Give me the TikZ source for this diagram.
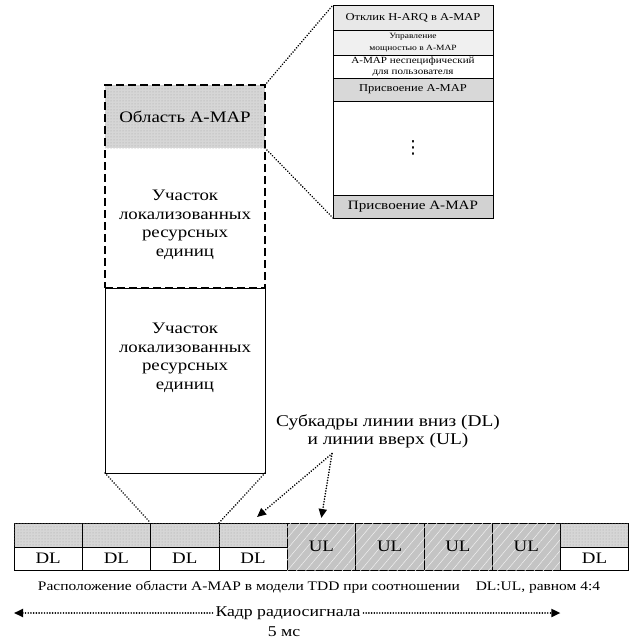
\documentclass[tikz,border=0pt]{standalone}
\usepackage{fontspec}
\setmainfont{Liberation Serif}[FakeStretch=1.18]
\newfontfamily\dotsfont{DejaVu Sans}
\usetikzlibrary{%
	calc,%
	arrows.meta,%
	positioning,%
	fit,%
	patterns,%
	patterns.meta,%
}
\definecolor{cstipple}{RGB}{214, 214, 214}
\definecolor{cstippledot}{RGB}{165, 165, 165}
\definecolor{culfill}{RGB}{196, 196, 196}
\definecolor{crowone}{RGB}{232, 232, 232}
\definecolor{crowtwo}{RGB}{240, 240, 240}
\definecolor{crowfour}{RGB}{216, 216, 216}
\definecolor{crowlast}{RGB}{210, 210, 210}
\tikzset{
	>={Triangle[length=9pt,width=8pt]},%
	nodes={align=center, inner sep=0pt, outer sep=0pt},%
	stipple/.style={%
			fill=cstipple,%
			postaction={pattern=dots, pattern color=cstippledot}},%
	mapcell/.style={%
			draw,%
			rectangle,%
			semithick,%
			stipple,%
			minimum width=68.3pt,%
			minimum height=24pt},%
	dlcell/.style={%
			draw,%
			rectangle,%
			semithick,%
			fill=white,%
			font=\fontsize{16}{18}\selectfont,%
			minimum width=68.3pt,%
			minimum height=23.5pt},%
	ulcell/.style={%
			draw,%
			rectangle,%
			semithick,%
			fill=culfill,%
			postaction={pattern={Lines[angle=50,distance=7pt,line width=0.5pt]}, pattern color=white!75!culfill},%
			font=\fontsize{16}{18}\selectfont,%
			minimum width=68.3pt,%
			minimum height=47.5pt},%
	zonebox/.style={%
			rectangle,%
			minimum width=160pt},%
	bigtext/.style={%
			font=\fontsize{16}{18.5}\selectfont},%
	dashbox/.style={%
			draw,%
			rectangle,%
			line width=2.2pt,%
			dash pattern=on 8pt off 4pt,%
			inner sep=0pt},%
	maprow/.style={%
			draw,%
			rectangle,%
			semithick,%
			minimum width=160pt},%
	dotline/.style={%
			line width=1.8pt,%
			line cap=round,%
			dash pattern=on 0.01pt off 2.7pt},%
}

\begin{document}
\begin{tikzpicture}[x=1pt, y=-1pt, node distance=0pt]%
	\useasboundingbox (0,0) rectangle (629,641);

	% frame of subframes
	\node[mapcell, anchor=north west] (map1) at (14,523) {};
	\node[mapcell] (map2) [right=of map1] {};
	\node[mapcell] (map3) [right=of map2] {};
	\node[mapcell] (map4) [right=of map3] {};
	\node[dlcell] (dl1) [below=of map1] {DL};
	\node[dlcell] (dl2) [below=of map2] {DL};
	\node[dlcell] (dl3) [below=of map3] {DL};
	\node[dlcell] (dl4) [below=of map4] {DL};
	\node[ulcell, right=of map4.north east, anchor=north west] (ul1) {UL};
	\node[ulcell] (ul2) [right=of ul1] {UL};
	\node[ulcell] (ul3) [right=of ul2] {UL};
	\node[ulcell] (ul4) [right=of ul3] {UL};
	\node[mapcell, right=of ul4.north east, anchor=north west] (map5) {};
	\node[dlcell] (dl5) [below=of map5] {DL};

	% zones of the DL subframe
	\node[zonebox, draw, semithick, minimum height=185pt, anchor=south west] (zone) at (105,473) {};
	\node[bigtext] (zonetxt) at ($(zone.north)+(0,70)$) {Участок\\локализованных\\ресурсных\\единиц};

	\node[zonebox, minimum height=140pt, anchor=south west] (dzone) at (zone.north west) {};
	\node[zonebox, stipple, minimum height=63pt] (amap) [above=of dzone] {};
	\node[bigtext] (amaptxt) at (amap.center) {Область A-MAP};
	\node[bigtext] (dzonetxt) at ($(dzone.center)+(0,7)$) {Участок\\локализованных\\ресурсных\\единиц};
	\node[dashbox, fit=(amap)(dzone)] (amapzone) {};

	% content of the A-MAP region
	\node[maprow, fill=crowone, minimum height=25pt, font=\fontsize{10.6}{12}\selectfont, anchor=north west] (harq) at (333,5) {Отклик H-ARQ в A-MAP};
	\node[maprow, fill=crowtwo, minimum height=25pt, font=\fontsize{8}{11.5}\selectfont] (power) [below=of harq] {Управление\\мощностью в A-MAP};
	\node[maprow, fill=white, minimum height=23pt, font=\fontsize{9.4}{11.5}\selectfont] (nonuser) [below=of power] {A-MAP неспецифический\\для пользователя};
	\node[maprow, fill=crowfour, minimum height=23pt, font=\fontsize{10.6}{12}\selectfont] (assign) [below=of nonuser] {Присвоение A-MAP};
	\node[maprow, fill=white, minimum height=94pt, font=\dotsfont\fontsize{18}{20}\selectfont] (blank) [below=of assign] {⋮};
	\node[maprow, fill=crowlast, minimum height=23pt, font=\fontsize{12.8}{14}\selectfont] (assignlast) [below=of blank] {Присвоение A-MAP};

	\draw[dotline] (amap.north east) to (harq.north west);
	\draw[dotline] (amap.south east) to (assignlast.south west);
	\draw[dotline] (zone.south west) to (map3.north west);
	\draw[dotline] (zone.south east) to (map4.north west);

	% subframe label
	\node[font=\fontsize{16.4}{18}\selectfont] (sublabel) at (388,431) {Субкадры линии вниз (DL)\\и линии вверх (UL)};
	\coordinate (subfoot) at ($(sublabel.south)+(-56,6)$);
	\draw[dotline, ->] (subfoot) to ($(map4.north)+(4,-6)$);
	\draw[dotline, ->] (subfoot) to ($(ul1.north)+(0,-5)$);

	% caption and frame length
	\node[font=\fontsize{13.1}{14}\selectfont] (caption) at (319,587) {Расположение области A-MAP в модели TDD при соотношении\hspace{12pt} DL:UL, равном 4:4};
	\node[font=\fontsize{15}{17}\selectfont] (radio) at (288,613) {Кадр радиосигнала};
	\node[font=\fontsize{15}{17}\selectfont] (ms) at (284,632) {5 мс};
	\draw[dotline, ->] ($(radio.west)+(-3,0)$) to (dl1.west |- radio.west);
	\draw[dotline, ->] ($(radio.east)+(3,0)$) to (map5.west |- radio.east);
\end{tikzpicture}
\end{document}
